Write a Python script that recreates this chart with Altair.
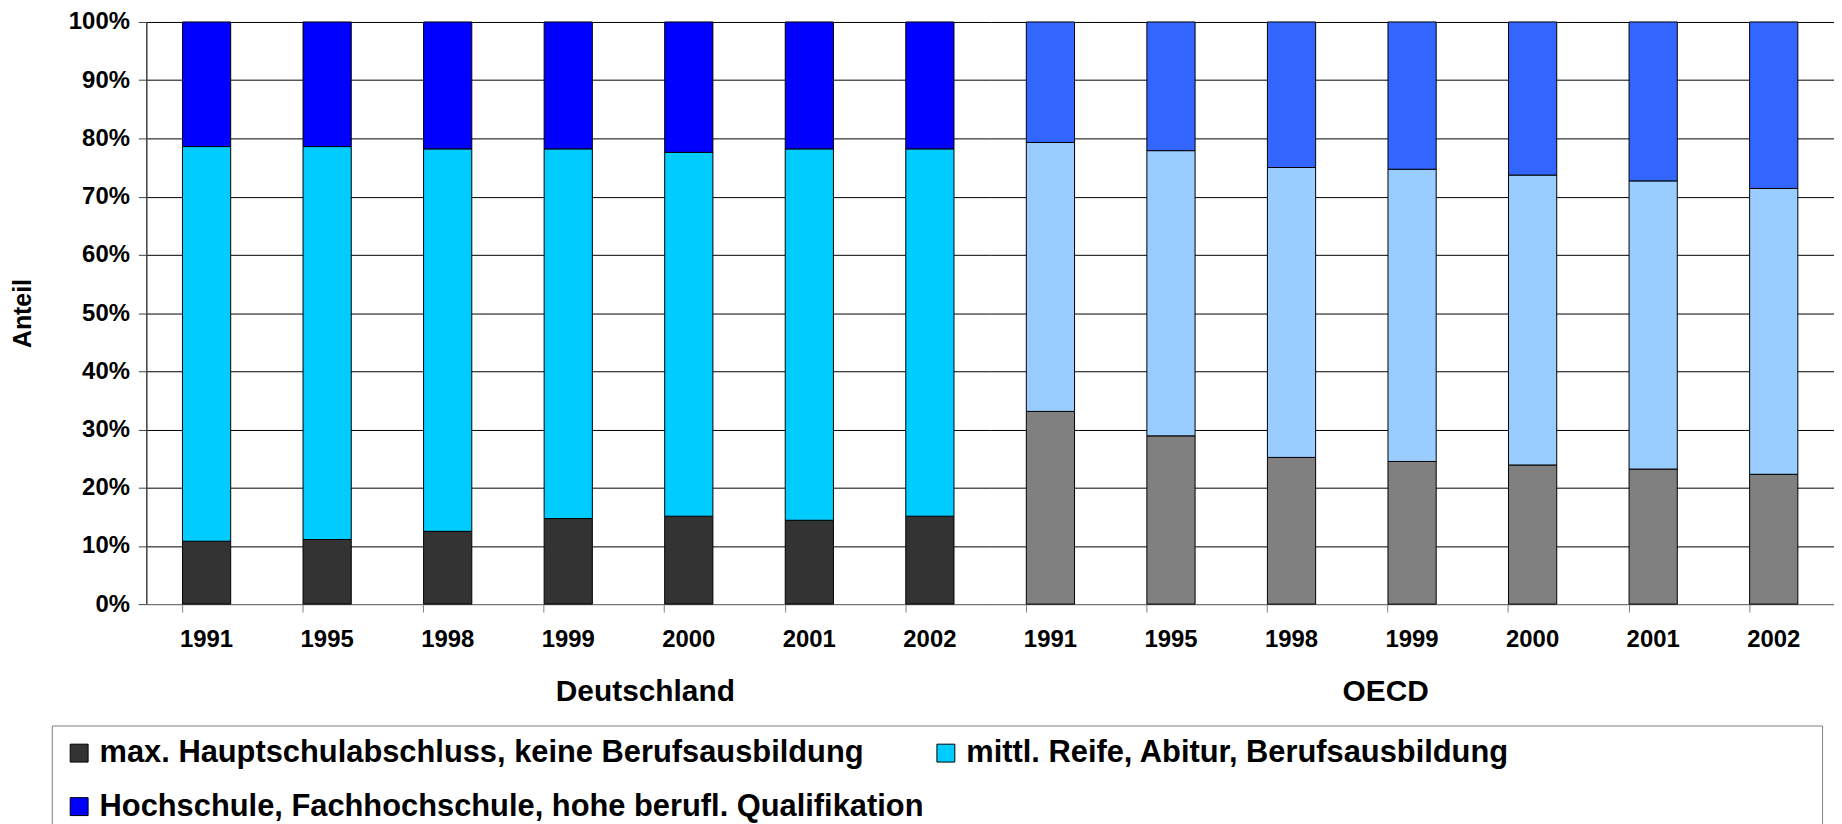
import altair as alt
import pandas as pd

years = ["1991", "1995", "1998", "1999", "2000", "2001", "2002"]
groups = ["Deutschland", "OECD"]
categories = [
    "max. Hauptschulabschluss, keine Berufsausbildung",
    "mittl. Reife, Abitur, Berufsausbildung",
    "Hochschule, Fachhochschule, hohe berufl. Qualifikation",
]

# shares in percent (bottom, middle, top segment)
de_low = [10.8, 11.1, 12.5, 14.7, 15.1, 14.4, 15.1]
de_mid = [67.8, 67.5, 65.7, 63.5, 62.5, 63.8, 63.1]
de_high = [21.4, 21.4, 21.8, 21.8, 22.4, 21.8, 21.8]
oecd_low = [33.1, 28.9, 25.2, 24.5, 23.9, 23.2, 22.3]
oecd_mid = [46.2, 49.0, 49.8, 50.2, 49.8, 49.5, 49.1]
oecd_high = [20.7, 22.1, 25.0, 25.3, 26.3, 27.3, 28.6]

de_colors = ["#333333", "#00CCFF", "#0000FF"]
oecd_colors = ["#808080", "#99CCFF", "#3366FF"]

series = {
    "Deutschland": [de_low, de_mid, de_high],
    "OECD": [oecd_low, oecd_mid, oecd_high],
}

rows = []
for g in groups:
    for i, y in enumerate(years):
        for k, c in enumerate(categories):
            rows.append({
                "Gruppe": g,
                "Jahr": y,
                "Kategorie": c,
                "Schluessel": g + "|" + c,
                "Ordnung": k,
                "Anteil": series[g][k][i],
            })
df = pd.DataFrame(rows)

color_domain = ["Deutschland|" + c for c in categories] + ["OECD|" + c for c in categories]
color_range = de_colors + oecd_colors

FONT = "Liberation Sans"
tick_values = [i / 10 for i in range(11)]

# the last legend column is widened with invisible spacing so the frame spans the chart
label_expr = (
    "datum.label == '" + color_domain[1] + "' ? "
    "pad(split(datum.label, '|')[1], 73, '\u00a0') + '\u200b' : split(datum.label, '|')[1]"
)

legend = alt.Legend(
    title=None, orient="none", legendX=-95, legendY=707,
    direction="horizontal", columns=2, gridAlign="each",
    columnPadding=6, rowPadding=22,
    symbolType="square", symbolSize=324, symbolStrokeColor="black",
    symbolStrokeWidth=1, symbolOpacity=1,
    labelFont=FONT, labelFontSize=31, labelFontWeight="bold", labelColor="black",
    labelOffset=5, labelLimit=3000, padding=12,
    strokeColor="#808080", fillColor="white",
    values=color_domain[:3],
    labelExpr=label_expr,
)


def panel(group, first, title_x):
    if first:
        yaxis = alt.Axis(
            title="Anteil", titleFontSize=25, titleFontWeight="bold", titlePadding=33,
            format=".0%", values=tick_values, labelFontSize=24, labelFontWeight="bold",
            labelPadding=9, tickSize=8, tickColor="#404040", domainColor="#404040",
            domainWidth=1.5, grid=True, gridColor="black", gridWidth=1, labelOverlap=False,
        )
    else:
        yaxis = alt.Axis(
            title=None, labels=False, ticks=False, domain=False, values=tick_values,
            grid=True, gridColor="black", gridWidth=1,
        )
    return alt.Chart(df).transform_filter(alt.datum.Gruppe == group).mark_bar(
        stroke="black", strokeWidth=1
    ).encode(
        x=alt.X(
            "Jahr:N", sort=years,
            scale=alt.Scale(paddingInner=0.6, paddingOuter=0.3),
            axis=alt.Axis(
                title=group, titleX=title_x, titleY=88, titleAlign="center",
                titleBaseline="middle", titleFontSize=30, titleFontWeight="bold",
                labelAngle=0, labelFontSize=24, labelFontWeight="bold",
                labelBaseline="middle", labelPadding=28, tickSize=8, bandPosition=0,
                domainColor="#808080", tickColor="#808080", grid=False,
            ),
        ),
        y=alt.Y("Anteil:Q", stack="normalize", scale=alt.Scale(domain=[0, 1]), axis=yaxis),
        color=alt.Color(
            "Schluessel:N",
            scale=alt.Scale(domain=color_domain, range=color_range),
            legend=legend,
        ),
        order=alt.Order("Ordnung:Q", sort="ascending"),
    ).properties(width=848, height=585)


chart = alt.hconcat(
    panel("Deutschland", True, 501),
    panel("OECD", False, 397),
    spacing=0,
).resolve_scale(color="shared", y="shared").properties(
    padding={"left": 2, "top": 0, "right": 0, "bottom": 0},
    background="white",
).configure_axis(
    labelFont=FONT, titleFont=FONT, labelColor="black", titleColor="black",
).configure_view(stroke=None)

chart.save("out.html", embed_options={"renderer": "svg", "actions": False})
